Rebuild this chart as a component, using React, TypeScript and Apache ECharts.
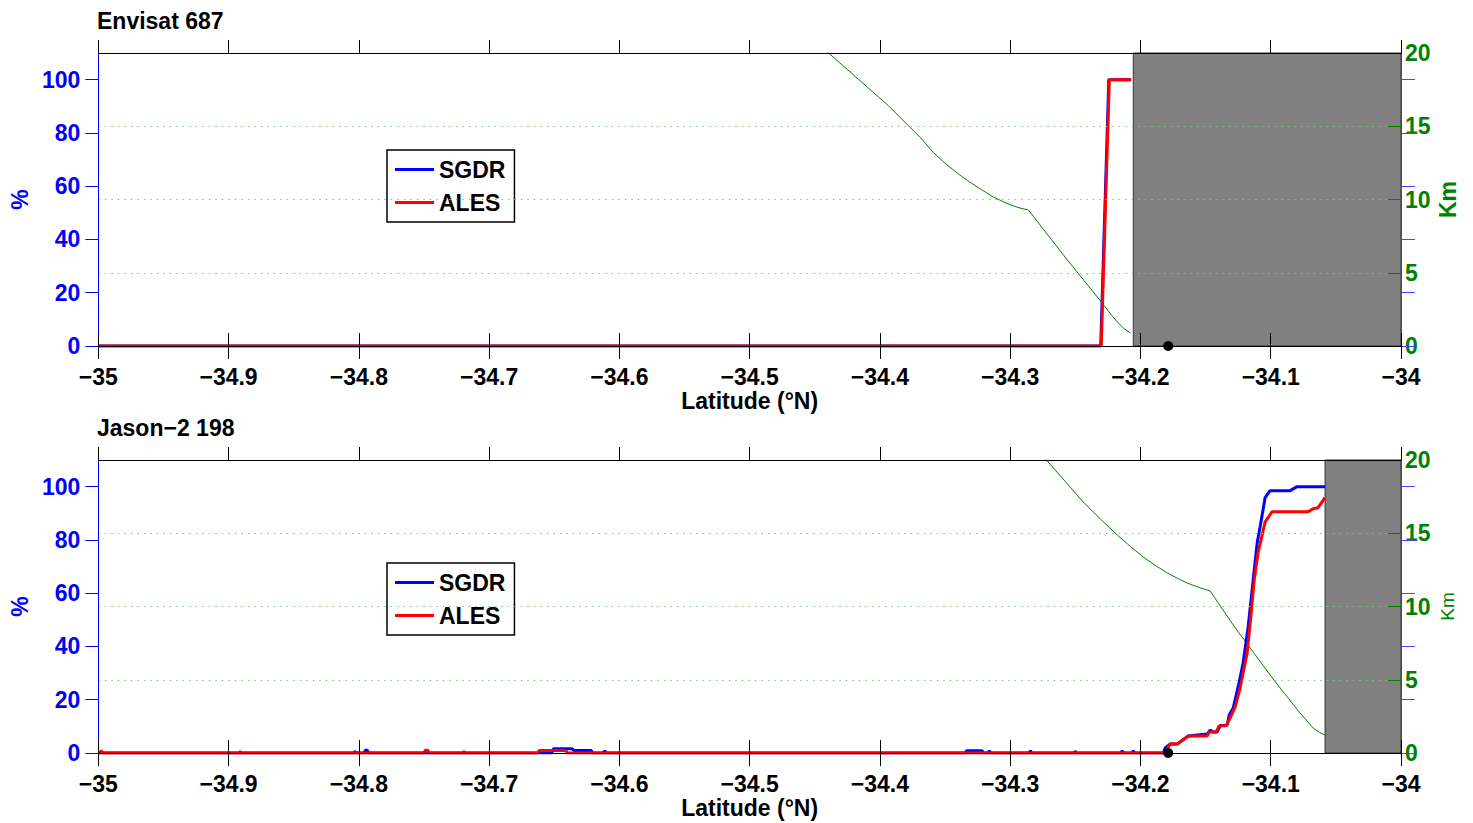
import React, { useEffect, useRef } from "react";
import * as echarts from "echarts";

// ---------- data ----------
const xTickValues = [-35, -34.9, -34.8, -34.7, -34.6, -34.5, -34.4, -34.3, -34.2, -34.1, -34];
const pctTicks = [0, 20, 40, 60, 80, 100];

const panelTitles = ["Envisat 687", "Jason\u22122 198"];
const seriesNames = ["SGDR", "ALES"];

// Envisat 687 (latitude, %)
const envSgdr: [number, number][] = [
  [-35.0, 0], [-34.2305, 0], [-34.2243, 100], [-34.2071, 100],
];
const envAles: [number, number][] = [
  [-35.0, 0], [-34.2301, 0], [-34.2239, 100], [-34.2071, 100],
];
// Envisat distance to coast (latitude, km)
const envKm: [number, number][] = [
  [-34.47, 22.4], [-34.4394, 20.0], [-34.3934, 16.4], [-34.3788, 15.1], [-34.3686, 14.2],
  [-34.3589, 13.2], [-34.3497, 12.45], [-34.3405, 11.8], [-34.3329, 11.3], [-34.3252, 10.85],
  [-34.3129, 10.17], [-34.3052, 9.84], [-34.2975, 9.56], [-34.2917, 9.4], [-34.286, 9.28],
  [-34.2561, 5.87], [-34.2293, 2.93], [-34.2235, 2.25], [-34.2178, 1.64], [-34.2128, 1.2],
  [-34.2078, 0.89],
];
const envLandStart = -34.2055;
const envDotLat = -34.1787;

// Jason-2 198 (latitude, %)
const jasSgdr: [number, number][] = [
  [-35.0, 0],
  [-34.804, 0], [-34.8029, 0.6], [-34.8018, 0],
  [-34.796, 0], [-34.795, 1.0], [-34.7935, 1.0], [-34.7925, 0],
  [-34.652, 0], [-34.6505, 1.6], [-34.636, 1.6], [-34.635, 0.9], [-34.6215, 0.9], [-34.6205, 0],
  [-34.6125, 0], [-34.6112, 0.8], [-34.61, 0],
  [-34.3345, 0], [-34.3335, 0.8], [-34.3215, 0.8], [-34.3205, 0],
  [-34.317, 0], [-34.316, 0.8], [-34.315, 0],
  [-34.2855, 0], [-34.2845, 0.8], [-34.2835, 0],
  [-34.251, 0], [-34.25, 0.6], [-34.249, 0],
  [-34.215, 0], [-34.214, 0.8], [-34.213, 0],
  [-34.2065, 0], [-34.2055, 0.8], [-34.2045, 0],
  [-34.1825, 0], [-34.181, 1.9], [-34.1771, 3.4], [-34.1718, 3.4], [-34.1633, 6.4],
  [-34.1488, 7.1], [-34.1465, 8.6], [-34.1442, 7.9], [-34.1411, 7.9], [-34.1388, 10.2],
  [-34.1334, 10.5], [-34.1319, 14.3], [-34.1288, 16.9], [-34.125, 24.8], [-34.1212, 33.8],
  [-34.1173, 47.4], [-34.1135, 65.0], [-34.1104, 78.9], [-34.1081, 85.0], [-34.1043, 95.9],
  [-34.1005, 98.5], [-34.0851, 98.5], [-34.0798, 100], [-34.0583, 100],
];
const jasAles: [number, number][] = [
  [-35.0, 0], [-34.9988, 0], [-34.9977, 0.8], [-34.9966, 0],
  [-34.8921, 0], [-34.8911, 0.6], [-34.8901, 0],
  [-34.75, 0], [-34.749, 1.0], [-34.747, 1.0], [-34.746, 0],
  [-34.7203, 0], [-34.7193, 0.6], [-34.7183, 0],
  [-34.6628, 0], [-34.6615, 0.9], [-34.641, 0.9], [-34.64, 0],
  [-34.1825, 0], [-34.181, 0.4], [-34.1771, 3.4], [-34.1718, 3.4], [-34.1633, 6.4],
  [-34.1488, 6.4], [-34.1472, 7.9], [-34.1419, 7.9], [-34.1396, 10.2], [-34.1342, 10.2],
  [-34.1311, 13.2], [-34.1273, 17.3], [-34.1235, 24.4], [-34.1181, 37.6], [-34.115, 52.6],
  [-34.1127, 65.0], [-34.1097, 75.2], [-34.1074, 80.1], [-34.1043, 86.8], [-34.0989, 90.6],
  [-34.0713, 90.6], [-34.0675, 91.7], [-34.0637, 92.1], [-34.0583, 95.9],
];
// Jason-2 distance to coast (latitude, km)
const jasKm: [number, number][] = [
  [-34.302, 23.0], [-34.2722, 20.0], [-34.2439, 17.13], [-34.2305, 15.95], [-34.2178, 14.88],
  [-34.2075, 14.08], [-34.1979, 13.38], [-34.1885, 12.8], [-34.1794, 12.29], [-34.1715, 11.92],
  [-34.1641, 11.6], [-34.155, 11.3], [-34.1465, 11.06], [-34.1288, 8.74], [-34.0982, 5.05],
  [-34.0875, 3.85], [-34.0775, 2.73], [-34.0675, 1.71], [-34.0625, 1.4], [-34.0583, 1.23],
];
const jasLandStart = -34.0583;
const jasDotLat = -34.1787;

// ---------- styling ----------
const FONT = '"Liberation Sans", Arial, Helvetica, sans-serif';
const FS = 23;
const BLUE = "#0000ff";
const RED = "#ff0000";
const GREEN = "#008000";
const GRID_LEFT = 97;
const GRID_WIDTH = 1304;
const GRID_HEIGHT = 293;
const GRID_TOPS = [53, 460];
const LEGEND_TOPS = [150, 563];
const TITLE_TOPS = [9, 416];

const fmtLat = (v: number) => {
  const r = Math.round(v * 10) / 10;
  const a = Math.abs(r);
  const s = Number.isInteger(a) ? String(a) : a.toFixed(1);
  return (r < 0 ? "\u2212" : "") + s;
};

function panel(gi: number, sgdr: [number, number][], ales: [number, number][], km: [number, number][], landStart: number, dotLat: number, kmBold: boolean) {
  const labelStyle = { fontSize: FS, fontWeight: "bold" as const, fontFamily: FONT };
  const xAxes = [
    {
      type: "value", gridIndex: gi, min: -35, max: -34, interval: 0.1, position: "bottom", z: 10,
      axisLine: { show: true, onZero: false, lineStyle: { color: "#000", width: 1 } },
      axisTick: { show: true, inside: false, length: 13, lineStyle: { color: "#000" } },
      axisLabel: { ...labelStyle, color: "#000", margin: 19, formatter: fmtLat, customValues: xTickValues },
      splitLine: { show: false },
      name: "Latitude (\u00b0N)", nameLocation: "middle", nameGap: 43,
      nameTextStyle: { ...labelStyle, color: "#000" },
    },
    {
      type: "value", gridIndex: gi, min: -35, max: -34, interval: 0.1, position: "bottom", z: 10,
      axisLine: { show: false, onZero: false },
      axisTick: { show: true, inside: true, length: 13, lineStyle: { color: "#000" } },
      axisLabel: { show: false }, splitLine: { show: false },
    },
    {
      type: "value", gridIndex: gi, min: -35, max: -34, interval: 0.1, position: "top", z: 10,
      axisLine: { show: true, onZero: false, lineStyle: { color: "#000", width: 1 } },
      axisTick: { show: true, inside: false, length: 13, lineStyle: { color: "#000" } },
      axisLabel: { show: false }, splitLine: { show: false },
    },
  ];
  const yAxes = [
    {
      type: "value", gridIndex: gi, min: 0, max: 110, position: "left", z: 10,
      axisLine: { show: true, onZero: false, lineStyle: { color: BLUE, width: 1 } },
      axisTick: { show: true, inside: false, length: 13, lineStyle: { color: BLUE }, customValues: pctTicks },
      axisLabel: { ...labelStyle, color: BLUE, margin: 18, customValues: pctTicks },
      splitLine: { show: false },
      name: "%", nameLocation: "middle", nameGap: 66, nameRotate: 90,
      nameTextStyle: { ...labelStyle, color: BLUE },
    },
    {
      type: "value", gridIndex: gi, min: 0, max: 20, interval: 5, position: "right", z: 9,
      axisLine: { show: true, onZero: false, lineStyle: { color: GREEN, width: 1 } },
      axisTick: { show: true, inside: true, length: 13, lineStyle: { color: GREEN } },
      axisLabel: { ...labelStyle, color: GREEN, margin: 4 },
      splitLine: { show: true, lineStyle: { color: "#7fbf7f", width: 1, type: [1.5, 5] } },
      name: "Km", nameLocation: "middle", nameGap: kmBold ? 35 : 37, nameRotate: 90,
      nameMoveOverlap: false,
      nameTextStyle: kmBold
        ? { ...labelStyle, color: GREEN }
        : { fontSize: 19, fontWeight: "normal", fontFamily: FONT, color: GREEN },
    },
    {
      type: "value", gridIndex: gi, min: 0, max: 110, position: "right", z: 10,
      axisLine: { show: false, onZero: false },
      axisTick: { show: true, inside: false, length: 14, lineStyle: { color: "#4444ff" }, customValues: pctTicks },
      axisLabel: { show: false }, splitLine: { show: false },
    },
  ];
  const xi = gi * 3;
  const yi = gi * 3;
  const series = [
    {
      type: "line", name: "land", xAxisIndex: xi, yAxisIndex: yi, data: [[-34, 0]], symbol: "none",
      lineStyle: { opacity: 0 }, silent: true, z: 1,
      markArea: {
        silent: true, itemStyle: { color: "#808080", borderColor: "#333", borderWidth: 1 },
        data: [[{ xAxis: landStart }, { xAxis: -34 }]],
      },
    },
    {
      type: "line", name: "Km", xAxisIndex: xi, yAxisIndex: yi + 1, data: km, symbol: "none",
      lineStyle: { color: GREEN, width: 1 }, itemStyle: { color: GREEN }, z: 3,
    },
    {
      type: "line", name: seriesNames[0], xAxisIndex: xi, yAxisIndex: yi, data: sgdr, symbol: "none",
      lineStyle: { color: BLUE, width: 3 }, itemStyle: { color: BLUE }, z: 4,
    },
    {
      type: "line", name: seriesNames[1], xAxisIndex: xi, yAxisIndex: yi, data: ales, symbol: "none",
      lineStyle: { color: RED, width: 3 }, itemStyle: { color: RED }, z: 5,
    },
    {
      type: "scatter", name: "dot", xAxisIndex: xi, yAxisIndex: yi, data: [[dotLat, 0]],
      symbolSize: 10, itemStyle: { color: "#000", opacity: 1 }, clip: false, z: 12, silent: true,
    },
  ];
  return { xAxes, yAxes, series };
}

export default function App() {
  const ref = useRef<HTMLDivElement>(null);
  useEffect(() => {
    document.body.style.margin = "0";
    if (!ref.current) return;
    const chart = echarts.init(ref.current, null, { renderer: "svg" });
    const p1 = panel(0, envSgdr, envAles, envKm, envLandStart, envDotLat, true);
    const p2 = panel(1, jasSgdr, jasAles, jasKm, jasLandStart, jasDotLat, false);
    const legendBase = {
      left: 387, orient: "vertical", itemWidth: 39, itemHeight: 3, itemGap: 10,
      icon: "rect",
      padding: [8, 9, 8, 8], borderColor: "#000", borderWidth: 1.5, backgroundColor: "#fff",
      selectedMode: false, z: 8,
      textStyle: { fontSize: FS, fontWeight: "bold", color: "#000", fontFamily: FONT, lineHeight: 22 },
    };
    chart.setOption({
      animation: false,
      backgroundColor: "#fff",
      title: panelTitles.map((t, i) => ({
        text: t, left: GRID_LEFT, top: TITLE_TOPS[i], padding: 0,
        textStyle: { fontSize: FS, fontWeight: "bold", color: "#000", fontFamily: FONT },
      })),
      legend: LEGEND_TOPS.map((top) => ({
        ...legendBase, top,
        data: seriesNames.map((n, k) => ({ name: n, itemStyle: { color: k === 0 ? BLUE : RED } })),
      })),
      grid: GRID_TOPS.map((top) => ({ left: GRID_LEFT, top, width: GRID_WIDTH, height: GRID_HEIGHT })),
      xAxis: [...p1.xAxes, ...p2.xAxes],
      yAxis: [...p1.yAxes, ...p2.yAxes],
      series: [...p1.series, ...p2.series],
    });
    return () => chart.dispose();
  }, []);
  return <div ref={ref} style={{ width: 1473, height: 823 }} />;
}
